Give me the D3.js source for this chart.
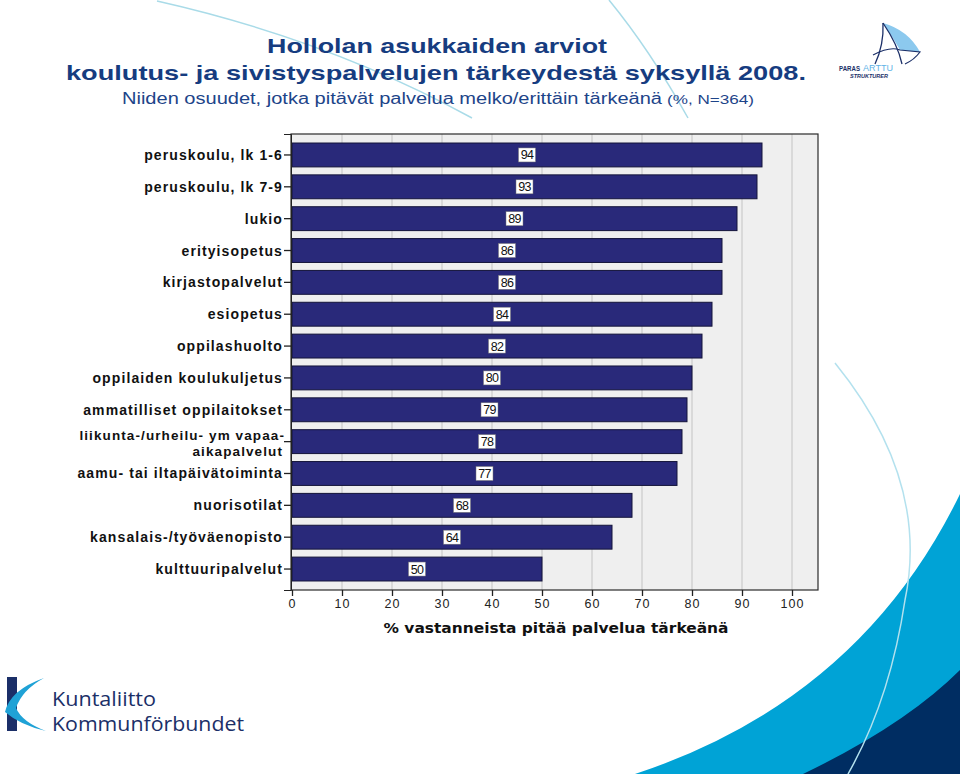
<!DOCTYPE html>
<html><head><meta charset="utf-8">
<script src="https://cdn.jsdelivr.net/npm/d3@7"></script>
<style>
html,body{margin:0;padding:0;background:#fff;}
svg{display:block;}
</style></head>
<body>
<svg id="chart" width="960" height="774"></svg>
<script>
const titleLines = ["Hollolan asukkaiden arviot", "koulutus- ja sivistyspalvelujen tärkeydestä syksyllä 2008."];
const subtitleMain = "Niiden osuudet, jotka pitävät palvelua melko/erittäin tärkeänä";
const subtitleSmall = "(%, N=364)";
const categories = [
  "peruskoulu, lk 1-6",
  "peruskoulu, lk 7-9",
  "lukio",
  "erityisopetus",
  "kirjastopalvelut",
  "esiopetus",
  "oppilashuolto",
  "oppilaiden koulukuljetus",
  "ammatilliset oppilaitokset",
  "liikunta-/urheilu- ym vapaa-|aikapalvelut",
  "aamu- tai iltapäivätoiminta",
  "nuorisotilat",
  "kansalais-/työväenopisto",
  "kulttuuripalvelut"
];
const values = [94, 93, 89, 86, 86, 84, 82, 80, 79, 78, 77, 68, 64, 50];
const xTicks = [0, 10, 20, 30, 40, 50, 60, 70, 80, 90, 100];
const xAxisTitle = "% vastanneista pitää palvelua tärkeänä";

const svg = d3.select("#chart");

// ---- background decorations ----
const deco = svg.append("g");
deco.append("path").attr("d","M635,774 Q860,700 960,494 L960,774 Z").attr("fill","#00a3d6");
deco.append("path").attr("d","M803,774 Q905,725 960,670 L960,774 Z").attr("fill","#002d62");
deco.append("path").attr("d","M157,1 Q330,40 472,118").attr("fill","none").attr("stroke","#a9dbe8").attr("stroke-width",1.5);
deco.append("path").attr("d","M609,0 Q650,50 688,118").attr("fill","none").attr("stroke","#a9dbe8").attr("stroke-width",1.5);
deco.append("path").attr("d","M835,363 Q930,480 905,600 Q890,700 848,774").attr("fill","none").attr("stroke","#b3e1ee").attr("stroke-width",1.5);

// ---- titles ----
const tcol = "#163c80";
svg.append("text").attr("x",437).attr("y",53).attr("text-anchor","middle")
  .attr("font-family","Liberation Sans, Arial, sans-serif").attr("font-weight","bold").attr("font-size",21)
  .attr("fill",tcol).attr("textLength",340).attr("lengthAdjust","spacingAndGlyphs").text(titleLines[0]);
svg.append("text").attr("x",436).attr("y",80).attr("text-anchor","middle")
  .attr("font-family","Liberation Sans, Arial, sans-serif").attr("font-weight","bold").attr("font-size",21)
  .attr("fill",tcol).attr("textLength",740).attr("lengthAdjust","spacingAndGlyphs").text(titleLines[1]);
svg.append("text").attr("x",122).attr("y",104)
  .attr("font-family","Liberation Sans, Arial, sans-serif").attr("font-size",16)
  .attr("fill","#1d4489").attr("textLength",540).attr("lengthAdjust","spacingAndGlyphs").text(subtitleMain);
svg.append("text").attr("x",667).attr("y",104)
  .attr("font-family","Liberation Sans, Arial, sans-serif").attr("font-size",13)
  .attr("fill","#1d4489").attr("textLength",87).attr("lengthAdjust","spacingAndGlyphs").text(subtitleSmall);

// ---- chart ----
const plot = {left:291, right:818, top:134, bottom:590};
const x = d3.scaleLinear().domain([0,105]).range([292, 292+525]);
const y = d3.scaleBand().domain(categories).range([plot.top, plot.bottom]).paddingInner(0.25).paddingOuter(0.283);

const g = svg.append("g");
g.append("rect").attr("x",plot.left).attr("y",plot.top).attr("width",plot.right-plot.left).attr("height",plot.bottom-plot.top)
  .attr("fill","#efefef");
g.selectAll(".grid").data(xTicks.filter(d=>d>0)).join("line")
  .attr("x1",d=>x(d)).attr("x2",d=>x(d)).attr("y1",plot.top).attr("y2",plot.bottom)
  .attr("stroke","#d2d2d2").attr("stroke-width",1.5);

g.selectAll(".bar").data(values).join("rect")
  .attr("x",x(0)).attr("y",(d,i)=>y(categories[i]))
  .attr("width",d=>x(d)-x(0)).attr("height",y.bandwidth())
  .attr("fill","#29297a").attr("stroke","#14143a").attr("stroke-width",1);

g.append("rect").attr("x",plot.left).attr("y",plot.top).attr("width",plot.right-plot.left).attr("height",plot.bottom-plot.top)
  .attr("fill","none").attr("stroke","#2a2a2a").attr("stroke-width",1.2);

// value labels
const vl = g.selectAll(".vl").data(values).join("g")
  .attr("transform",(d,i)=>`translate(${x(d/2)},${y(categories[i])+y.bandwidth()/2})`);
vl.append("rect").attr("x",-8.5).attr("y",-7).attr("width",17).attr("height",14).attr("fill","#fff").attr("stroke","#777").attr("stroke-width",0.5);
vl.append("text").attr("text-anchor","middle").attr("dy","0.36em")
  .attr("font-family","Liberation Sans, Arial, sans-serif").attr("font-size",12.5).attr("fill","#111")
  .attr("letter-spacing",-0.6).text(d=>d);

// y axis
const yAxis = d3.axisLeft(y).tickSize(7).tickPadding(2).tickFormat("");
const ya = g.append("g").attr("transform",`translate(${plot.left},0)`).call(yAxis);
ya.select(".domain").attr("stroke","#222");
ya.selectAll(".tick line").attr("stroke","#222").attr("stroke-width",1.3);
categories.forEach((c,i)=>{
  const parts = c.split("|");
  const cy = y(c)+y.bandwidth()/2;
  const t = g.append("text").attr("text-anchor","end")
    .attr("font-family","Liberation Sans, Arial, sans-serif").attr("font-weight","bold").attr("font-size",14)
    .attr("letter-spacing",1.1).attr("fill","#111");
  if(parts.length===1){
    t.append("tspan").attr("x",283).attr("y",cy+5).text(parts[0]);
  } else {
    t.append("tspan").attr("x",285).attr("y",cy-2).attr("font-size",13.5).text(parts[0]);
    t.append("tspan").attr("x",283).attr("y",cy+14.5).attr("font-size",13.5).text(parts[1]);
  }
});

// x axis
const xAxis = d3.axisBottom(x).tickValues(xTicks).tickSize(6).tickPadding(3);
const xa = g.append("g").attr("transform",`translate(0,${plot.bottom})`).call(xAxis);
xa.select(".domain").remove();
xa.selectAll(".tick line").attr("stroke","#222").attr("stroke-width",1.3);
xa.selectAll(".tick text").attr("font-family","Liberation Sans, Arial, sans-serif").attr("font-size",12.5)
  .attr("fill","#222").attr("letter-spacing",1);

g.append("text").attr("x",556).attr("y",633).attr("text-anchor","middle")
  .attr("font-family","DejaVu Sans, Verdana, sans-serif").attr("font-weight","bold").attr("font-size",14)
  .attr("fill","#111").attr("textLength",345).attr("lengthAdjust","spacingAndGlyphs").text(xAxisTitle);

// ---- Kuntaliitto logo ----
const kl = svg.append("g");
kl.append("rect").attr("x",7).attr("y",677).attr("width",10).attr("height",54).attr("fill","#1b2f68");
kl.append("path").attr("d","M44,678 Q10,690 5,712 Q20,725 46,731 Q22,722 16,708 Q22,690 44,678 Z").attr("fill","#1fa2d6");
kl.append("text").attr("x",52).attr("y",706).attr("font-family","Open Sans, Noto Sans, sans-serif").attr("font-size",19.5)
  .attr("fill","#1b2f68").attr("textLength",104).attr("lengthAdjust","spacingAndGlyphs").text("Kuntaliitto");
kl.append("text").attr("x",52).attr("y",731).attr("font-family","Open Sans, Noto Sans, sans-serif").attr("font-size",19.5)
  .attr("fill","#1b2f68").attr("textLength",192).attr("lengthAdjust","spacingAndGlyphs").text("Kommunförbundet");

// ---- ARTTU logo ----
const al = svg.append("g");
al.append("path").attr("d","M883,23 Q908,30 920,52 L900,50 Q892,36 883,23 Z").attr("fill","#8cc9ee");
al.append("path").attr("d","M883,23 Q884,45 875,64").attr("fill","none").attr("stroke","#1b2f68").attr("stroke-width",1.3);
al.append("path").attr("d","M883,23 Q898,45 902,64").attr("fill","none").attr("stroke","#1b2f68").attr("stroke-width",1.3);
al.append("path").attr("d","M873,55 Q890,46 900,50 L920,52 Q914,60 905,64").attr("fill","none").attr("stroke","#1b2f68").attr("stroke-width",1.2);
al.append("text").attr("x",839).attr("y",71).attr("font-family","Liberation Sans, Arial, sans-serif").attr("font-weight","bold")
  .attr("font-size",6.5).attr("fill","#1b2f68").attr("textLength",21).attr("lengthAdjust","spacingAndGlyphs").text("PARAS");
al.append("text").attr("x",863).attr("y",71).attr("font-family","Liberation Sans, Arial, sans-serif")
  .attr("font-size",9).attr("fill","#5fb3e6").attr("textLength",30).attr("lengthAdjust","spacingAndGlyphs").text("ARTTU");
al.append("text").attr("x",850).attr("y",78).attr("font-family","Liberation Sans, Arial, sans-serif").attr("font-weight","bold")
  .attr("font-style","italic").attr("font-size",5.5).attr("fill","#1b2f68").text("STRUKTURER");
</script>
</body></html>
